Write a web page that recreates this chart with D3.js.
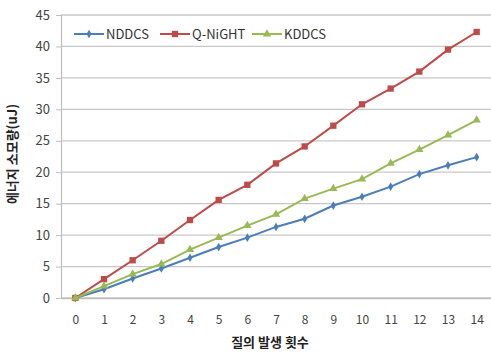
<!DOCTYPE html>
<html>
<head>
<meta charset="utf-8">
<script src="https://cdn.jsdelivr.net/npm/d3@7"></script>
<style>
  html, body { margin: 0; padding: 0; background: #fff; }
  svg { display: block; }
</style>
</head>
<body>
<svg id="chart" width="491" height="352"></svg>
<script>
// Query count on the x axis
const categories = ["0","1","2","3","4","5","6","7","8","9","10","11","12","13","14"];
// Energy consumption (uJ) per scheme
const nddcs  = [0, 1.4, 3.1, 4.7, 6.4, 8.1, 9.6, 11.3, 12.6, 14.7, 16.1, 17.7, 19.7, 21.1, 22.4];
const qnight = [0, 3.0, 6.0, 9.1, 12.4, 15.6, 18.0, 21.4, 24.1, 27.4, 30.8, 33.3, 36.0, 39.5, 42.3];
const kddcs  = [0, 1.9, 3.8, 5.4, 7.7, 9.6, 11.5, 13.3, 15.8, 17.4, 18.9, 21.4, 23.6, 25.9, 28.3];
const yTicks = [0, 5, 10, 15, 20, 25, 30, 35, 40, 45];
const seriesNames = ["NDDCS", "Q-NiGHT", "KDDCS"];

const series = [
  { name: seriesNames[0], values: nddcs,  color: "#4a7ebb", marker: "diamond" },
  { name: seriesNames[1], values: qnight, color: "#be4b48", marker: "square" },
  { name: seriesNames[2], values: kddcs,  color: "#98b954", marker: "triangle" }
];

const svg = d3.select("#chart");
const font = "'Noto Sans CJK KR', 'Liberation Sans', sans-serif";
const plotL = 61, plotR = 491, plotT = 15, plotB = 298;

const x = d3.scalePoint().domain(categories).range([plotL, plotR]).padding(0.5);
const y = d3.scaleLinear().domain([0, 45]).range([plotB, plotT]);

// horizontal gridlines
svg.append("g").selectAll("line").data(yTicks).join("line")
  .attr("x1", plotL).attr("x2", plotR)
  .attr("y1", d => y(d)).attr("y2", d => y(d))
  .attr("stroke", "#c8c8c8").attr("stroke-width", 1.3);

// y axis
const yAxis = svg.append("g").attr("transform", `translate(${plotL},0)`)
  .call(d3.axisLeft(y).tickValues(yTicks).tickSize(5).tickPadding(6));
yAxis.select(".domain").attr("stroke", "#bdbdbd").attr("stroke-width", 1.2);
yAxis.selectAll(".tick line").attr("stroke", "#bdbdbd");
yAxis.selectAll("text").attr("font-family", font).attr("font-size", 13).attr("fill", "#444");

// x axis
const xAxis = svg.append("g").attr("transform", `translate(0,${plotB})`)
  .call(d3.axisBottom(x).tickSize(0).tickPadding(17));
xAxis.select(".domain").attr("stroke", "#bdbdbd").attr("stroke-width", 1.3);
xAxis.selectAll("text").attr("font-family", font).attr("font-size", 12).attr("fill", "#444");

// axis titles
svg.append("text")
  .attr("x", 270).attr("y", 347)
  .attr("text-anchor", "middle")
  .attr("font-family", font).attr("font-size", 13).attr("font-weight", "bold").attr("fill", "#222")
  .text("질의 발생 횟수");
svg.append("text")
  .attr("transform", "translate(17,154) rotate(-90)")
  .attr("text-anchor", "middle")
  .attr("font-family", font).attr("font-size", 13).attr("font-weight", "bold").attr("fill", "#222")
  .text("에너지 소모량(uJ)");

function markerPath(type) {
  if (type === "diamond") return d3.symbol().type(d3.symbolDiamond).size(22)();
  if (type === "square") return d3.symbol().type(d3.symbolSquare).size(40)();
  return d3.symbol().type(d3.symbolTriangle).size(30)();
}

const line = d3.line().x((d, i) => x(categories[i])).y(d => y(d));

series.forEach(s => {
  svg.append("path").datum(s.values)
    .attr("d", line)
    .attr("fill", "none").attr("stroke", s.color).attr("stroke-width", 2);
  svg.append("g").selectAll("path").data(s.values).join("path")
    .attr("transform", (d, i) => `translate(${x(categories[i])},${y(d)})`)
    .attr("d", markerPath(s.marker))
    .attr("fill", s.color);
});

// legend
const legendX = [74, 160, 252];
const legend = svg.append("g");
series.forEach((s, i) => {
  const g = legend.append("g").attr("transform", `translate(${legendX[i]},34)`);
  g.append("line").attr("x1", 0).attr("x2", 30).attr("y1", 0).attr("y2", 0)
    .attr("stroke", s.color).attr("stroke-width", 2);
  g.append("path").attr("transform", "translate(15,0)").attr("d", markerPath(s.marker)).attr("fill", s.color);
  g.append("text").attr("x", 32).attr("y", 5)
    .attr("font-family", font).attr("font-size", 13).attr("fill", "#333")
    .text(s.name);
});
</script>
</body>
</html>
